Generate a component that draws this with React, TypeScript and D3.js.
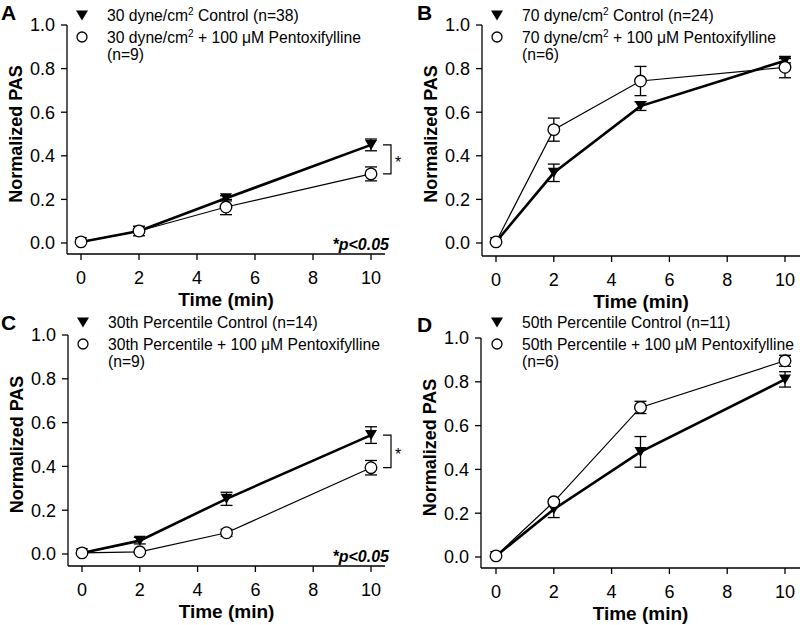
import React from "react";
import * as d3 from "d3";

const times = [0, 2, 5, 10];
const xTicks = [0, 2, 4, 6, 8, 10];
const yTicks = [0, 0.2, 0.4, 0.6, 0.8, 1.0];

const aControl = [0.005, 0.055, 0.205, 0.45];
const aControlErr = [0, 0.008, 0.012, 0.027];
const aPtx = [0.005, 0.055, 0.165, 0.317];
const aPtxErr = [0, 0.022, 0.035, 0.032];

const bControl = [0.005, 0.322, 0.628, 0.836];
const bControlErr = [0, 0.04, 0.02, 0.01];
const bPtx = [0.005, 0.52, 0.743, 0.806];
const bPtxErr = [0, 0.053, 0.067, 0.048];

const cControl = [0.005, 0.061, 0.252, 0.543];
const cControlErr = [0, 0.015, 0.03, 0.038];
const cPtx = [0.005, 0.01, 0.097, 0.394];
const cPtxErr = [0, 0.005, 0.016, 0.033];

const dControl = [0.005, 0.218, 0.48, 0.811];
const dControlErr = [0, 0.038, 0.07, 0.035];
const dPtx = [0.005, 0.252, 0.683, 0.896];
const dPtxErr = [0, 0.01, 0.028, 0.025];

type Seg = { t: string; sup?: boolean };
const legendA: Seg[][] = [
  [{ t: "30 dyne/cm" }, { t: "2", sup: true }, { t: " Control (n=38)" }],
  [{ t: "30 dyne/cm" }, { t: "2", sup: true }, { t: " + 100 μM Pentoxifylline" }],
  [{ t: "(n=9)" }],
];
const legendB: Seg[][] = [
  [{ t: "70 dyne/cm" }, { t: "2", sup: true }, { t: " Control (n=24)" }],
  [{ t: "70 dyne/cm" }, { t: "2", sup: true }, { t: " + 100 μM Pentoxifylline" }],
  [{ t: "(n=6)" }],
];
const legendC: Seg[][] = [
  [{ t: "30th Percentile Control (n=14)" }],
  [{ t: "30th Percentile + 100 μM Pentoxifylline" }],
  [{ t: "(n=9)" }],
];
const legendD: Seg[][] = [
  [{ t: "50th Percentile Control (n=11)" }],
  [{ t: "50th Percentile + 100 μM Pentoxifylline" }],
  [{ t: "(n=6)" }],
];

const FONT = "'Liberation Sans', Arial, Helvetica, sans-serif";

type PanelProps = {
  letter: string;
  layout: {
    axisX: number; xAxisY: number; x0: number; x10: number; xEnd: number;
    y0: number; y1: number; legendBase: number; letterX: number; letterY: number;
  };
  control: number[]; controlErr: number[]; ptx: number[]; ptxErr: number[];
  legend: Seg[][];
  sig: boolean;
};

function Panel({ letter, layout, control, controlErr, ptx, ptxErr, legend, sig }: PanelProps) {
  const L = layout;
  const x = d3.scaleLinear().domain([0, 10]).range([L.x0, L.x10]);
  const y = d3.scaleLinear().domain([0, 1]).range([L.y0, L.y1]);
  const line = d3.line<[number, number]>().x((d) => x(d[0])).y((d) => y(d[1]));
  const cPts = times.map((t, i) => [t, control[i]] as [number, number]);
  const pPts = times.map((t, i) => [t, ptx[i]] as [number, number]);
  const cap = 6;
  const errBars = (vals: number[], errs: number[], key: string) =>
    times.map((t, i) =>
      errs[i] > 0.004 ? (
        <g key={key + i} stroke="#000" strokeWidth={1.3}>
          <line x1={x(t)} x2={x(t)} y1={y(vals[i] + errs[i])} y2={y(vals[i] - errs[i])} />
          <line x1={x(t) - cap} x2={x(t) + cap} y1={y(vals[i] + errs[i])} y2={y(vals[i] + errs[i])} />
          <line x1={x(t) - cap} x2={x(t) + cap} y1={y(vals[i] - errs[i])} y2={y(vals[i] - errs[i])} />
        </g>
      ) : null
    );
  const tri = (cx: number, cy: number) =>
    `M${cx - 6},${cy - 5}L${cx + 6},${cy - 5}L${cx},${cy + 5}Z`;
  const lx = L.x0 + 1;
  const tx = L.x0 + 26;
  const lb = L.legendBase;
  const lineYs = [lb, lb + 22, lb + 39];
  const midY = (y(control[3]) + y(ptx[3])) / 2;
  return (
    <g fontFamily={FONT}>
      <text x={L.letterX} y={L.letterY} fontSize={21} fontWeight="bold">{letter}</text>
      <path d={tri(lx, lb - 5.5)} fill="#000" />
      <circle cx={lx} cy={lb + 16} r={5} fill="#fff" stroke="#000" strokeWidth={1.3} />
      {legend.map((segs, li) => (
        <text key={li} x={tx} y={lineYs[li]} fontSize={15.7}>
          {segs.map((s, si) =>
            s.sup ? (
              <tspan key={si} fontSize={10} dy={-6}>{s.t}</tspan>
            ) : (
              <tspan key={si} dy={si > 0 && segs[si - 1].sup ? 6 : 0}>{s.t}</tspan>
            )
          )}
        </text>
      ))}
      <line x1={L.axisX} x2={L.axisX} y1={L.y1} y2={L.xAxisY} stroke="#000" strokeWidth={1.3} />
      <line x1={L.axisX} x2={L.xEnd} y1={L.xAxisY} y2={L.xAxisY} stroke="#000" strokeWidth={1.3} />
      {yTicks.map((v) => (
        <g key={"y" + v}>
          <line x1={L.axisX - 6} x2={L.axisX} y1={y(v)} y2={y(v)} stroke="#000" strokeWidth={1.3} />
          <text x={L.axisX - 12} y={y(v)} dy="0.36em" textAnchor="end" fontSize={18}>{d3.format(".1f")(v)}</text>
        </g>
      ))}
      {xTicks.map((v) => (
        <g key={"x" + v}>
          <line x1={x(v)} x2={x(v)} y1={L.xAxisY} y2={L.xAxisY + 6} stroke="#000" strokeWidth={1.3} />
          <text x={x(v)} y={L.xAxisY + 30} textAnchor="middle" fontSize={18}>{v}</text>
        </g>
      ))}
      <text x={(L.axisX + L.xEnd) / 2} y={L.xAxisY + 52} textAnchor="middle" fontSize={19} fontWeight="bold">Time (min)</text>
      <text transform={`translate(${L.axisX - 45},${(L.y0 + L.y1) / 2}) rotate(-90)`} textAnchor="middle" fontSize={18} fontWeight="bold">Normalized PAS</text>
      <path d={line(cPts) || ""} fill="none" stroke="#000" strokeWidth={2.6} />
      {errBars(control, controlErr, "ce")}
      {cPts.map((p, i) => <path key={"ct" + i} d={tri(x(p[0]), y(p[1]))} fill="#000" />)}
      <path d={line(pPts) || ""} fill="none" stroke="#000" strokeWidth={1.2} />
      {errBars(ptx, ptxErr, "pe")}
      {pPts.map((p, i) => (
        <circle key={"pc" + i} cx={x(p[0])} cy={y(p[1])} r={5.8} fill="#fff" stroke="#000" strokeWidth={1.3} />
      ))}
      {sig && (
        <g>
          <path
            d={`M${x(10) + 12},${y(control[3])}H${x(10) + 20}V${y(ptx[3])}H${x(10) + 12}`}
            fill="none" stroke="#000" strokeWidth={1.2}
          />
          <text x={x(10) + 24} y={midY + 9} fontSize={16}>*</text>
          <text x={L.xEnd + 4} y={L.xAxisY - 4} textAnchor="end" fontSize={16} fontWeight="bold" fontStyle="italic">*p&lt;0.05</text>
        </g>
      )}
    </g>
  );
}

export default function App() {
  return (
    <svg width={800} height={625} style={{ position: "absolute", left: 0, top: 0, background: "#fff" }}>
      <rect width={800} height={625} fill="#fff" />
      <Panel letter="A" sig legend={legendA} control={aControl} controlErr={aControlErr} ptx={aPtx} ptxErr={aPtxErr}
        layout={{ axisX: 67, xAxisY: 254, x0: 81, x10: 371, xEnd: 385, y0: 243, y1: 25, legendBase: 21, letterX: 1, letterY: 20 }} />
      <Panel letter="B" sig={false} legend={legendB} control={bControl} controlErr={bControlErr} ptx={bPtx} ptxErr={bPtxErr}
        layout={{ axisX: 482, xAxisY: 256, x0: 496, x10: 785, xEnd: 800, y0: 243, y1: 25, legendBase: 21, letterX: 417, letterY: 20 }} />
      <Panel letter="C" sig legend={legendC} control={cControl} controlErr={cControlErr} ptx={cPtx} ptxErr={cPtxErr}
        layout={{ axisX: 68, xAxisY: 566, x0: 82, x10: 371, xEnd: 385, y0: 554, y1: 335, legendBase: 328, letterX: 1, letterY: 330 }} />
      <Panel letter="D" sig={false} legend={legendD} control={dControl} controlErr={dControlErr} ptx={dPtx} ptxErr={dPtxErr}
        layout={{ axisX: 481, xAxisY: 568, x0: 496, x10: 785, xEnd: 800, y0: 557, y1: 338, legendBase: 328, letterX: 417, letterY: 332 }} />
    </svg>
  );
}
